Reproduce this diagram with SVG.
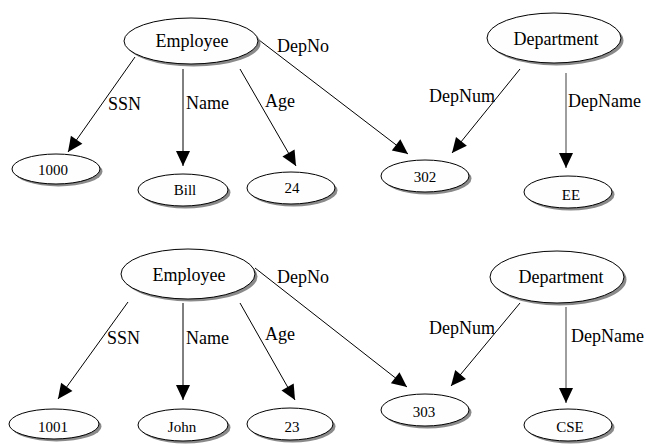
<svg xmlns="http://www.w3.org/2000/svg" width="646" height="445" viewBox="0 0 646 445">
<defs>
<style>
.sh{fill:#8a8a8a;stroke:none}
.nd{fill:#fefefe;stroke:#000;stroke-width:1}
.big{font-family:"Liberation Serif","Times New Roman",serif;font-size:18px;fill:#000;text-anchor:middle}
.sm{font-family:"Liberation Serif","Times New Roman",serif;font-size:15px;fill:#000;text-anchor:middle}
.lb{font-family:"Liberation Serif","Times New Roman",serif;font-size:18px;fill:#000}
.e{stroke:#000;stroke-width:1;fill:none;marker-end:url(#ah)}
.g{stroke:#6a6a6a;stroke-width:1.3;fill:none;marker-end:url(#ah)}
</style>
<marker id="ah" markerUnits="userSpaceOnUse" markerWidth="18" markerHeight="18" viewBox="-1 -9 18 18" refX="15" refY="0" orient="auto">
<path d="M0,-7 L15,0 L0,7 Z" fill="#000"/>
</marker>
</defs>
<rect width="646" height="445" fill="#fff"/>
<g id="connectors">
<line class="e" x1="135" y1="57" x2="68" y2="152"/>
<line class="e" x1="183" y1="69" x2="183" y2="166"/>
<line class="e" x1="240" y1="69" x2="296" y2="166"/>
<line class="e" x1="259" y1="40" x2="408" y2="154"/>
<line class="e" x1="520" y1="69" x2="452" y2="153"/>
<line class="g" x1="566" y1="73" x2="566" y2="168"/>
<line class="e" x1="128" y1="302" x2="58" y2="399"/>
<line class="e" x1="183" y1="303" x2="183" y2="400"/>
<line class="e" x1="240" y1="303" x2="295" y2="400"/>
<line class="e" x1="255" y1="268" x2="407" y2="387"/>
<line class="e" x1="520" y1="303" x2="451" y2="386"/>
<line class="g" x1="566" y1="307" x2="566" y2="403"/>
<text class="lb" x="108" y="110">SSN</text>
<text class="lb" x="186" y="109">Name</text>
<text class="lb" x="265" y="107">Age</text>
<text class="lb" x="277" y="52">DepNo</text>
<text class="lb" x="429" y="102">DepNum</text>
<text class="lb" x="568" y="107">DepName</text>
<text class="lb" x="107" y="344">SSN</text>
<text class="lb" x="186" y="344">Name</text>
<text class="lb" x="265" y="340">Age</text>
<text class="lb" x="277" y="283">DepNo</text>
<text class="lb" x="429" y="334">DepNum</text>
<text class="lb" x="571" y="342">DepName</text>
</g>
<g id="employee1"><ellipse class="sh" cx="193.5" cy="43.5" rx="67" ry="23"/><ellipse class="nd" cx="191" cy="41" rx="67" ry="23"/><text class="big" x="192" y="47">Employee</text></g>
<g id="department1"><ellipse class="sh" cx="556.5" cy="40.5" rx="67" ry="25"/><ellipse class="nd" cx="554" cy="38" rx="67" ry="25"/><text class="big" x="556" y="45">Department</text></g>
<g id="ssn1000"><ellipse class="sh" cx="58.5" cy="171.5" rx="44" ry="15"/><ellipse class="nd" cx="56" cy="169" rx="44" ry="15"/><text class="sm" x="53" y="175">1000</text></g>
<g id="bill"><ellipse class="sh" cx="185.5" cy="192.5" rx="45" ry="16"/><ellipse class="nd" cx="183" cy="190" rx="45" ry="16"/><text class="sm" x="185" y="195">Bill</text></g>
<g id="age24"><ellipse class="sh" cx="293.5" cy="190.5" rx="44" ry="16"/><ellipse class="nd" cx="291" cy="188" rx="44" ry="16"/><text class="sm" x="292" y="193">24</text></g>
<g id="dep302"><ellipse class="sh" cx="427.5" cy="178.5" rx="44" ry="16"/><ellipse class="nd" cx="425" cy="176" rx="44" ry="16"/><text class="sm" x="425" y="182">302</text></g>
<g id="ee"><ellipse class="sh" cx="570.5" cy="194.5" rx="44" ry="16"/><ellipse class="nd" cx="568" cy="192" rx="44" ry="16"/><text class="sm" x="571" y="200">EE</text></g>
<g id="employee2"><ellipse class="sh" cx="190.5" cy="276.5" rx="67" ry="25"/><ellipse class="nd" cx="188" cy="274" rx="67" ry="25"/><text class="big" x="189" y="281">Employee</text></g>
<g id="department2"><ellipse class="sh" cx="559.5" cy="279.5" rx="67" ry="26"/><ellipse class="nd" cx="557" cy="277" rx="67" ry="26"/><text class="big" x="561" y="283">Department</text></g>
<g id="ssn1001"><ellipse class="sh" cx="56.5" cy="426.5" rx="45" ry="15"/><ellipse class="nd" cx="54" cy="424" rx="45" ry="15"/><text class="sm" x="53" y="432">1001</text></g>
<g id="john"><ellipse class="sh" cx="185.5" cy="427.5" rx="45" ry="16"/><ellipse class="nd" cx="183" cy="425" rx="45" ry="16"/><text class="sm" x="182" y="432">John</text></g>
<g id="age23"><ellipse class="sh" cx="292.5" cy="426.5" rx="43" ry="16"/><ellipse class="nd" cx="290" cy="424" rx="43" ry="16"/><text class="sm" x="292" y="432">23</text></g>
<g id="dep303"><ellipse class="sh" cx="427.5" cy="412.5" rx="44" ry="16"/><ellipse class="nd" cx="425" cy="410" rx="44" ry="16"/><text class="sm" x="424" y="417">303</text></g>
<g id="cse"><ellipse class="sh" cx="570.5" cy="427.5" rx="44" ry="16"/><ellipse class="nd" cx="568" cy="425" rx="44" ry="16"/><text class="sm" x="570" y="432">CSE</text></g>
</svg>
